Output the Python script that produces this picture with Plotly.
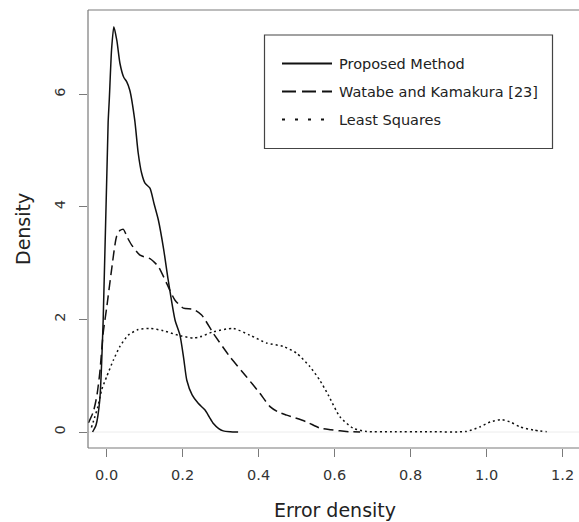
import plotly.graph_objects as go

# ---- data ----
series_names = ["Proposed Method", "Watabe and Kamakura [23]", "Least Squares"]

prop_x = [-0.037, -0.028, -0.018, -0.009, 0.004, 0.007, 0.013, 0.019, 0.027, 0.035, 0.045,
          0.053, 0.061, 0.074, 0.083, 0.092, 0.101, 0.114, 0.125, 0.136, 0.150, 0.162,
          0.180, 0.193, 0.203, 0.211, 0.225, 0.241, 0.259, 0.270, 0.281, 0.295, 0.307, 0.325, 0.346]
prop_y = [0.0, 0.12, 0.57, 2.0, 5.5, 5.9, 6.79, 7.2, 6.95, 6.55, 6.3,
          6.22, 6.07, 5.54, 4.96, 4.6, 4.42, 4.33, 4.05, 3.77, 3.25, 2.70,
          1.99, 1.72, 1.3, 0.92, 0.66, 0.51, 0.39, 0.27, 0.15, 0.06, 0.02, 0.005, 0.0]

wat_x = [-0.048, -0.035, -0.026, -0.018, -0.009, 0.0, 0.013, 0.026, 0.035, 0.044, 0.055,
         0.066, 0.088, 0.114, 0.136, 0.158, 0.18, 0.202, 0.228, 0.25, 0.281, 0.324,
         0.368, 0.403, 0.43, 0.45, 0.474, 0.526, 0.561, 0.59, 0.614, 0.64, 0.667]
wat_y = [0.16, 0.36, 0.63, 1.05, 1.76, 2.2, 2.88, 3.47, 3.58, 3.6, 3.45,
         3.32, 3.14, 3.08, 2.94, 2.64, 2.34, 2.2, 2.18, 2.08, 1.75, 1.34,
         0.98, 0.69, 0.45, 0.36, 0.30, 0.18, 0.07, 0.04, 0.02, 0.005, 0.0]

ls_x = [-0.04, -0.032, -0.023, -0.013, 0.0, 0.018, 0.035, 0.057, 0.083, 0.114, 0.149,
        0.193, 0.228, 0.246, 0.281, 0.333, 0.377, 0.421, 0.465, 0.5, 0.535, 0.561,
        0.583, 0.614, 0.649, 0.684, 0.75, 0.85, 0.947, 0.982, 1.01, 1.039, 1.065,
        1.088, 1.123, 1.158]
ls_y = [0.08, 0.25, 0.45, 0.75, 0.98, 1.28, 1.52, 1.72, 1.82, 1.84, 1.8,
        1.71, 1.67, 1.69, 1.78, 1.84, 1.72, 1.58, 1.52, 1.4, 1.16, 0.92,
        0.66, 0.27, 0.066, 0.01, 0.005, 0.005, 0.01, 0.09, 0.18, 0.22, 0.17,
        0.09, 0.035, 0.005]

x_ticks = [0.0, 0.2, 0.4, 0.6, 0.8, 1.0, 1.2]
x_tick_labels = ["0.0", "0.2", "0.4", "0.6", "0.8", "1.0", "1.2"]
y_ticks = [0, 2, 4, 6]
y_tick_labels = ["0", "2", "4", "6"]

# ---- layout geometry ----
W, H = 579, 522
ML, MR, MT, MB = 88, 0, 10, 74
PW, PH = W - ML - MR, H - MT - MB
FONT = "DejaVu Sans"
AX = "#7a7a7a"

def px(x):
    return (x - ML) / PW

def py(y):
    return (H - MB - y) / PH

dashes = ["solid", "10px,5px", "2px,3px"]
legend_dashes = ["solid", "14px,6px", "3px,10px"]

fig = go.Figure()
for xs, ys, nm, d in zip([prop_x, wat_x, ls_x], [prop_y, wat_y, ls_y], series_names, dashes):
    fig.add_trace(go.Scatter(x=xs, y=ys, name=nm, mode="lines",
                             line=dict(color="#111111", width=1.5, dash=d,
                                       shape="spline", smoothing=0.6),
                             showlegend=False, hoverinfo="skip"))

shapes = []
# zero reference line
shapes.append(dict(type="line", xref="paper", yref="y", x0=0, x1=1, y0=0, y1=0,
                   line=dict(color="#ececec", width=1), layer="below"))
# box: top, left, bottom
shapes.append(dict(type="line", xref="paper", yref="paper", x0=0, x1=1.01, y0=1, y1=1,
                   line=dict(color=AX, width=1.2)))
shapes.append(dict(type="line", xref="paper", yref="paper", x0=0, x1=0, y0=0, y1=1,
                   line=dict(color=AX, width=1.2)))
shapes.append(dict(type="line", xref="paper", yref="paper", x0=0, x1=1.01, y0=0, y1=0,
                   line=dict(color=AX, width=1.2)))
# legend box
shapes.append(dict(type="rect", xref="paper", yref="paper", x0=px(264.5), x1=px(552.5),
                   y0=py(148.5), y1=py(35), line=dict(color="#444444", width=1.2),
                   fillcolor="white"))
annotations = []
rows = [63.5, 91.5, 119.5]
for nm, d, ry in zip(series_names, legend_dashes, rows):
    shapes.append(dict(type="line", xref="paper", yref="paper", x0=px(282), x1=px(332),
                       y0=py(ry), y1=py(ry), line=dict(color="#111111", width=2, dash=d)))
    annotations.append(dict(text=nm, xref="paper", yref="paper", x=px(337), y=py(ry),
                            xanchor="left", yanchor="middle", showarrow=False,
                            font=dict(family=FONT, size=14.5, color="#222222")))

# axis titles
annotations.append(dict(text="Error density", xref="paper", yref="paper",
                        x=px(334.5), y=py(510), xanchor="center", yanchor="middle",
                        showarrow=False, font=dict(family=FONT, size=19, color="#222222")))
annotations.append(dict(text="Density", xref="paper", yref="paper",
                        x=px(23), y=py(229), xanchor="center", yanchor="middle",
                        textangle=-90, showarrow=False,
                        font=dict(family=FONT, size=19, color="#222222")))

fig.update_layout(
    width=W, height=H,
    margin=dict(l=ML, r=MR, t=MT, b=MB, pad=0),
    paper_bgcolor="white", plot_bgcolor="white",
    shapes=shapes, annotations=annotations,
    showlegend=False,
    xaxis=dict(range=[-0.049, -0.049 + PW / 380.0], tickvals=x_ticks, ticktext=x_tick_labels,
               showgrid=False, zeroline=False, showline=False,
               ticks="outside", ticklen=8, tickcolor=AX, tickwidth=1.2,
               tickfont=dict(family=FONT, size=14.5, color="#333333"),
               ticklabelstandoff=6),
    yaxis=dict(range=[-(16 / 56.3), 422 / 56.3], tickvals=y_ticks, ticktext=y_tick_labels,
               showgrid=False, zeroline=False, showline=False,
               ticks="outside", ticklen=8, tickcolor=AX, tickwidth=1.2, tickangle=-90,
               tickfont=dict(family=FONT, size=14.5, color="#333333"),
               ticklabelstandoff=8),
)

fig.write_html("out.html")
